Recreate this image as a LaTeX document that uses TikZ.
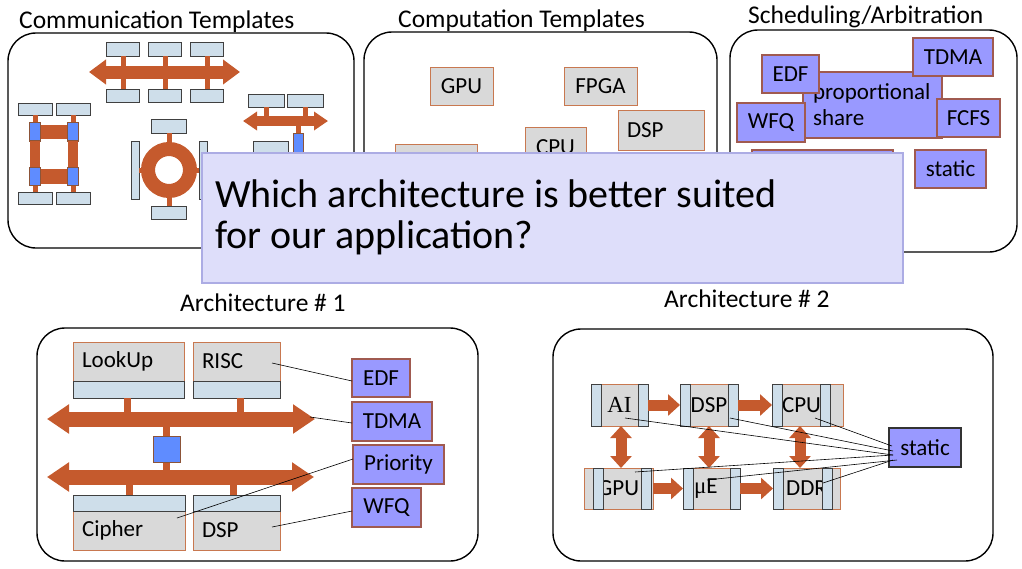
\documentclass[tikz,border=0pt]{standalone}
\usepackage{fontspec}
\setmainfont{Carlito}
\newfontfamily\romanfont{Liberation Serif}
\usetikzlibrary{arrows.meta,positioning}

\definecolor{busbrown}{RGB}{197,90,45}
\definecolor{unitgray}{RGB}{217,217,217}
\definecolor{unitrim}{RGB}{200,120,80}
\definecolor{portblue}{RGB}{206,222,234}
\definecolor{chipblue}{RGB}{95,140,255}
\definecolor{policyblue}{RGB}{153,153,255}
\definecolor{policyrim}{RGB}{160,90,80}
\definecolor{askfill}{RGB}{222,222,250}
\definecolor{askrim}{RGB}{172,172,228}

\begin{document}
\begin{tikzpicture}[x=1pt, y=-1pt, font=\fontsize{23}{26}\selectfont]
			\tikzstyle{frame}=[draw, line width=1.4pt, rounded corners=28pt]
			\tikzstyle{title}=[anchor=base west, inner sep=0pt, font=\fontsize{25.5}{28}\selectfont]
			\tikzstyle{unit}=[draw=unitrim, fill=unitgray, line width=1pt, inner xsep=9pt, inner ysep=0pt, outer sep=0pt]
			\tikzstyle{port}=[draw=black!75, fill=portblue, line width=0.9pt, inner sep=0pt, outer sep=0pt]
			\tikzstyle{chip}=[draw=unitrim!70!black, fill=chipblue, line width=0.9pt, inner sep=0pt, outer sep=0pt]
			\tikzstyle{policy}=[draw=policyrim, fill=policyblue, line width=1.2pt, inner xsep=9pt, inner ysep=0pt, outer sep=0pt]
			\tikzstyle{stub}=[draw=busbrown, line width=5pt]
			\tikzstyle{bus}=[draw=busbrown, line width=13pt, arrows={Triangle[length=17pt,width=24pt]-Triangle[length=17pt,width=24pt]}]
			\tikzstyle{minibus}=[draw=busbrown, line width=10pt, arrows={Triangle[length=14pt,width=18pt]-Triangle[length=14pt,width=18pt]}]
			\tikzstyle{widebus}=[draw=busbrown, line width=15pt, arrows={Triangle[length=22pt,width=28pt]-Triangle[length=22pt,width=28pt]}]
			\tikzstyle{link}=[draw=busbrown, line width=11pt, arrows={-Triangle[length=12pt,width=21pt]}]
			\tikzstyle{duplex}=[draw=busbrown, line width=11pt, arrows={Triangle[length=12pt,width=21pt]-Triangle[length=12pt,width=21pt]}]
			\tikzstyle{wire}=[draw, line width=0.6pt]
			\useasboundingbox (0,0) rectangle (1022,568);

			% titles
			\node[title] (commT) at (19,28) {Communication Templates};
			\node[title] (compT) at (398,27) {Computation Templates};
			\node[title] (schedT) at (748,23) {Scheduling/Arbitration};
			\node[title] (arch1T) at (180,311) {Architecture \# 1};
			\node[title] (arch2T) at (664,307) {Architecture \# 2};

			\draw[frame] (8,33) rectangle (354,248);
			\draw[frame] (364,32) rectangle (717,248);
			\draw[frame] (730,30) rectangle (1017,252);
			\draw[frame] (37,328) rectangle (478,561);
			\draw[frame] (553,329) rectangle (993,561);

			% shared bus
			\foreach \x/\n in {123/a,165/b,207/c}{
				\node[port, minimum width=33pt, minimum height=14pt] (up\n) at (\x,49) {};
				\node[port, minimum width=33pt, minimum height=13pt] (dn\n) at (\x,95.5) {};
				\draw[stub] (up\n) -- (dn\n);
			}
			\draw[bus] (89,72) -- (240,72);

			% mesh
			\foreach \x/\n in {35/l,73/r}{
				\node[port, minimum width=34pt, minimum height=12pt] (mt\n) at (\x,109) {};
				\node[port, minimum width=34pt, minimum height=12pt] (mb\n) at (\x,198) {};
				\node[chip, minimum width=11pt, minimum height=19pt] (mu\n) at (\x,131.5) {};
				\node[chip, minimum width=11pt, minimum height=18pt] (md\n) at (\x,176) {};
			}
			\draw[stub] (mtl) -- (mul);
			\draw[stub] (mtr) -- (mur);
			\draw[stub] (mdl) -- (mbl);
			\draw[stub] (mdr) -- (mbr);
			\draw[busbrown, line width=10pt] (mul) -- (mdl);
			\draw[busbrown, line width=10pt] (mur) -- (mdr);
			\draw[busbrown, line width=14pt] (mul) -- (mur);
			\draw[busbrown, line width=15pt] (mdl) -- (mdr);
			\foreach \n in {ul,ur,dl,dr} \node[chip, minimum width=11pt, minimum height=18pt] at (m\n) {};

			% ring
			\node[circle, draw=busbrown, line width=14pt, minimum size=42pt, inner sep=0pt] (ring) at (169,170) {};
			\node[port, minimum width=35pt, minimum height=14pt] (rtop) at (169,126) {};
			\node[port, minimum width=35pt, minimum height=13pt] (rbot) at (169,212.5) {};
			\node[port, minimum width=8pt, minimum height=58pt] (rleft) at (135,170) {};
			\node[port, minimum width=8pt, minimum height=58pt] (rright) at (203,170) {};
			\draw[stub] (rtop) -- (ring);
			\draw[stub] (rbot) -- (ring);
			\draw[stub] (rleft) -- (ring);
			\draw[stub] (rright) -- (ring);

			% small bus
			\node[port, minimum width=36pt, minimum height=13pt] (sa) at (266,100.5) {};
			\node[port, minimum width=36pt, minimum height=13pt] (sb) at (305.5,100.5) {};
			\node[chip, minimum width=10pt, minimum height=42pt] (sc) at (298,154) {};
			\node[port, minimum width=35pt, minimum height=44pt] (sd) at (270.5,163) {};
			\coordinate (sbus) at (243,121);
			\draw[stub] (sa) -- (sa |- sbus);
			\draw[stub] (sb) -- (sb |- sbus);
			\draw[stub] (sc) -- (sc |- sbus);
			\draw[minibus] (sbus) -- (328,121);

			% computation
			\node[unit, minimum width=63pt, minimum height=38pt] (gpuT) at (461.5,86) {GPU};
			\node[unit, minimum width=73pt, minimum height=38pt] (fpgaT) at (600.5,86) {FPGA};
			\node[unit, text width=68pt, align=left, minimum height=40pt] (dspT) at (661,130) {DSP};
			\node[unit, minimum width=61pt, minimum height=40pt] (cpuT) at (555.5,147) {CPU};
			\node[unit, minimum width=82pt, minimum height=40pt] (hidT) at (436,164) {};

			% scheduling
			\node[policy, text width=119pt, align=left, minimum height=66pt, inner xsep=10pt] (prop) at (872.5,105) {proportional\\share};
			\node[policy, minimum width=57pt, minimum height=38pt] (edfS) at (790.5,74) {EDF};
			\node[policy, minimum width=80pt, minimum height=38pt] (tdmaS) at (953,57) {TDMA};
			\node[policy, minimum width=68pt, minimum height=39pt] (wfqS) at (771,122.5) {WFQ};
			\node[policy, minimum width=63pt, minimum height=38pt] (fcfsS) at (968.5,118) {FCFS};
			\node[policy, minimum width=71pt, minimum height=38pt] (staticS) at (950.5,169) {static};
			\node[policy, minimum width=141pt, minimum height=44pt] (hidS) at (822.5,172) {};

			% question
			\node[draw=askrim, fill=askfill, line width=1.2pt, minimum width=701pt, minimum height=130pt, inner sep=0pt] (ask) at (552.5,218) {};
			\node[anchor=base west, inner sep=0pt, font=\fontsize{40}{44}\selectfont] (askTop) at (215,207) {Which architecture is better suited};
			\node[anchor=base west, inner sep=0pt, font=\fontsize{40}{44}\selectfont] (askBot) at (215,248) {for our application?};

			% architecture 1
			\node[unit, text width=93pt, align=left, minimum height=39pt] (lookup) at (128.5,361.5) {LookUp};
			\node[port, minimum width=111pt, minimum height=17pt, below=0pt of lookup] (lookupP) {};
			\node[unit, text width=69pt, align=left, minimum height=39pt] (risc) at (236.5,361.5) {RISC};
			\node[port, minimum width=87pt, minimum height=17pt, below=0pt of risc] (riscP) {};
			\node[unit, text width=94pt, align=left, minimum height=39pt] (cipher) at (129,530.5) {Cipher};
			\node[port, minimum width=112pt, minimum height=16pt, above=0pt of cipher] (cipherP) {};
			\node[unit, text width=69pt, align=left, minimum height=39pt] (dspA) at (236.5,530.5) {DSP};
			\node[port, minimum width=87pt, minimum height=16pt, above=0pt of dspA] (dspAP) {};
			\node[chip, minimum width=27pt, minimum height=26pt] (bridge) at (166.5,449) {};
			\coordinate (busT) at (47,419);
			\coordinate (busB) at (47,477);
			\draw[busbrown, line width=7pt] ([xshift=-1.5pt]lookupP.south) -- ([xshift=-1.5pt]lookupP.south |- busT);
			\draw[busbrown, line width=7pt] ([xshift=3.5pt]riscP.south) -- ([xshift=3.5pt]riscP.south |- busT);
			\draw[busbrown, line width=7pt] (cipherP.north) -- (cipherP.north |- busB);
			\draw[busbrown, line width=7pt] ([xshift=-3.5pt]dspAP.north) -- ([xshift=-3.5pt]dspAP.north |- busB);
			\draw[busbrown, line width=7pt] (bridge) -- (bridge |- busT);
			\draw[busbrown, line width=7pt] (bridge) -- (bridge |- busB);
			\draw[widebus] (busT) -- (315,419);
			\draw[widebus] (busB) -- (314,477);
			\node[chip, minimum width=27pt, minimum height=26pt] at (bridge) {};
			\coordinate (busTip) at (310,417);

			\node[policy, minimum width=58pt, minimum height=38pt] (edfA) at (381,378) {EDF};
			\node[policy, minimum width=80pt, minimum height=39pt] (tdmaA) at (392,421.5) {TDMA};
			\node[policy, minimum width=91pt, minimum height=39pt] (prioA) at (398.5,464.5) {Priority};
			\node[policy, minimum width=69pt, minimum height=39pt] (wfqA) at (386.5,507.5) {WFQ};
			\draw[wire] ([shift={(-8,1.5)}]risc.east) -- ([shift={(0,3)}]edfA.west);
			\draw[wire] (busTip) -- ([shift={(0,1.5)}]tdmaA.west);
			\draw[wire] ([shift={(-8,-12.5)}]cipher.east) -- ([shift={(0,-5.5)}]prioA.west);
			\draw[wire] ([shift={(-8,-3.5)}]dspA.east) -- ([shift={(0,3.5)}]wfqA.west);

			% architecture 2
			\node[unit, minimum width=57pt, minimum height=42pt] (ai) at (619.5,405) {\romanfont AI};
			\node[port, minimum width=10pt, minimum height=42pt] (aiL) at (596,405) {};
			\node[port, minimum width=10pt, minimum height=42pt] (aiR) at (643,405) {};
			\node[unit, minimum width=58pt, minimum height=42pt] (dspB) at (709,405) {DSP};
			\node[port, minimum width=10pt, minimum height=42pt] (dspBL) at (685,405) {};
			\node[port, minimum width=10pt, minimum height=42pt] (dspBR) at (733,405) {};
			\node[unit, text width=51pt, inner xsep=10pt, align=left, minimum height=42pt] (cpuB) at (807.5,405) {CPU};
			\node[port, minimum width=10pt, minimum height=42pt] (cpuBL) at (777,405) {};
			\node[port, minimum width=10pt, minimum height=42pt] (cpuBR) at (825,405) {};
			\node[unit, minimum width=69pt, minimum height=41pt] (gpuB) at (618.5,488.5) {GPU};
			\node[port, minimum width=10pt, minimum height=41pt] (gpuBL) at (598,488.5) {};
			\node[port, minimum width=10pt, minimum height=41pt] (gpuBR) at (646,488.5) {};
			\node[unit, text width=35pt, inner xsep=11pt, align=left, minimum height=41pt] (mue) at (711.5,488.5) {{\romanfont μ}E};
			\node[port, minimum width=10pt, minimum height=41pt] (mueL) at (688,488.5) {};
			\node[port, minimum width=10pt, minimum height=41pt] (mueR) at (735,488.5) {};
			\node[unit, minimum width=67pt, minimum height=41pt] (ddr) at (806.5,488.5) {DDR};
			\node[port, minimum width=10pt, minimum height=41pt] (ddrL) at (778,488.5) {};
			\node[port, minimum width=10pt, minimum height=41pt] (ddrR) at (827,488.5) {};
			\draw[link] (ai) -- (dspB);
			\draw[link] (dspB) -- (cpuB);
			\draw[link] (gpuB) -- (mue);
			\draw[link] (mue) -- (ddr);
			\draw[duplex] ([xshift=1.5pt]ai.south) -- ([xshift=2.5pt]gpuB.north);
			\draw[duplex] (dspB.south) -- ([xshift=-2.5pt]mue.north);
			\draw[duplex] ([xshift=-7.5pt]cpuB.south) -- ([xshift=-6.5pt]ddr.north);

			\node[policy, draw=black!80, minimum width=72pt, minimum height=39pt] (staticB) at (925,447.5) {static};
			\draw[wire] ([shift={(7.5,13)}]cpuB.center) -- ([shift={(3,-1.5)}]staticB.west);
			\draw[wire] ([shift={(21,13)}]dspB.center) -- ([shift={(4,3.5)}]staticB.west);
			\draw[wire] ([shift={(5.5,13)}]ai.center) -- ([shift={(4,7.5)}]staticB.west);
			\draw[wire] ([shift={(16.5,-16.5)}]gpuB.center) -- ([shift={(4,7.5)}]staticB.west);
			\draw[wire] ([shift={(-4.5,-8.5)}]mue.center) -- ([shift={(8,12.5)}]staticB.west);
			\draw[wire] ([shift={(16.5,-5.5)}]ddr.center) -- ([shift={(4,12.5)}]staticB.west);
		\end{tikzpicture}
\end{document}
